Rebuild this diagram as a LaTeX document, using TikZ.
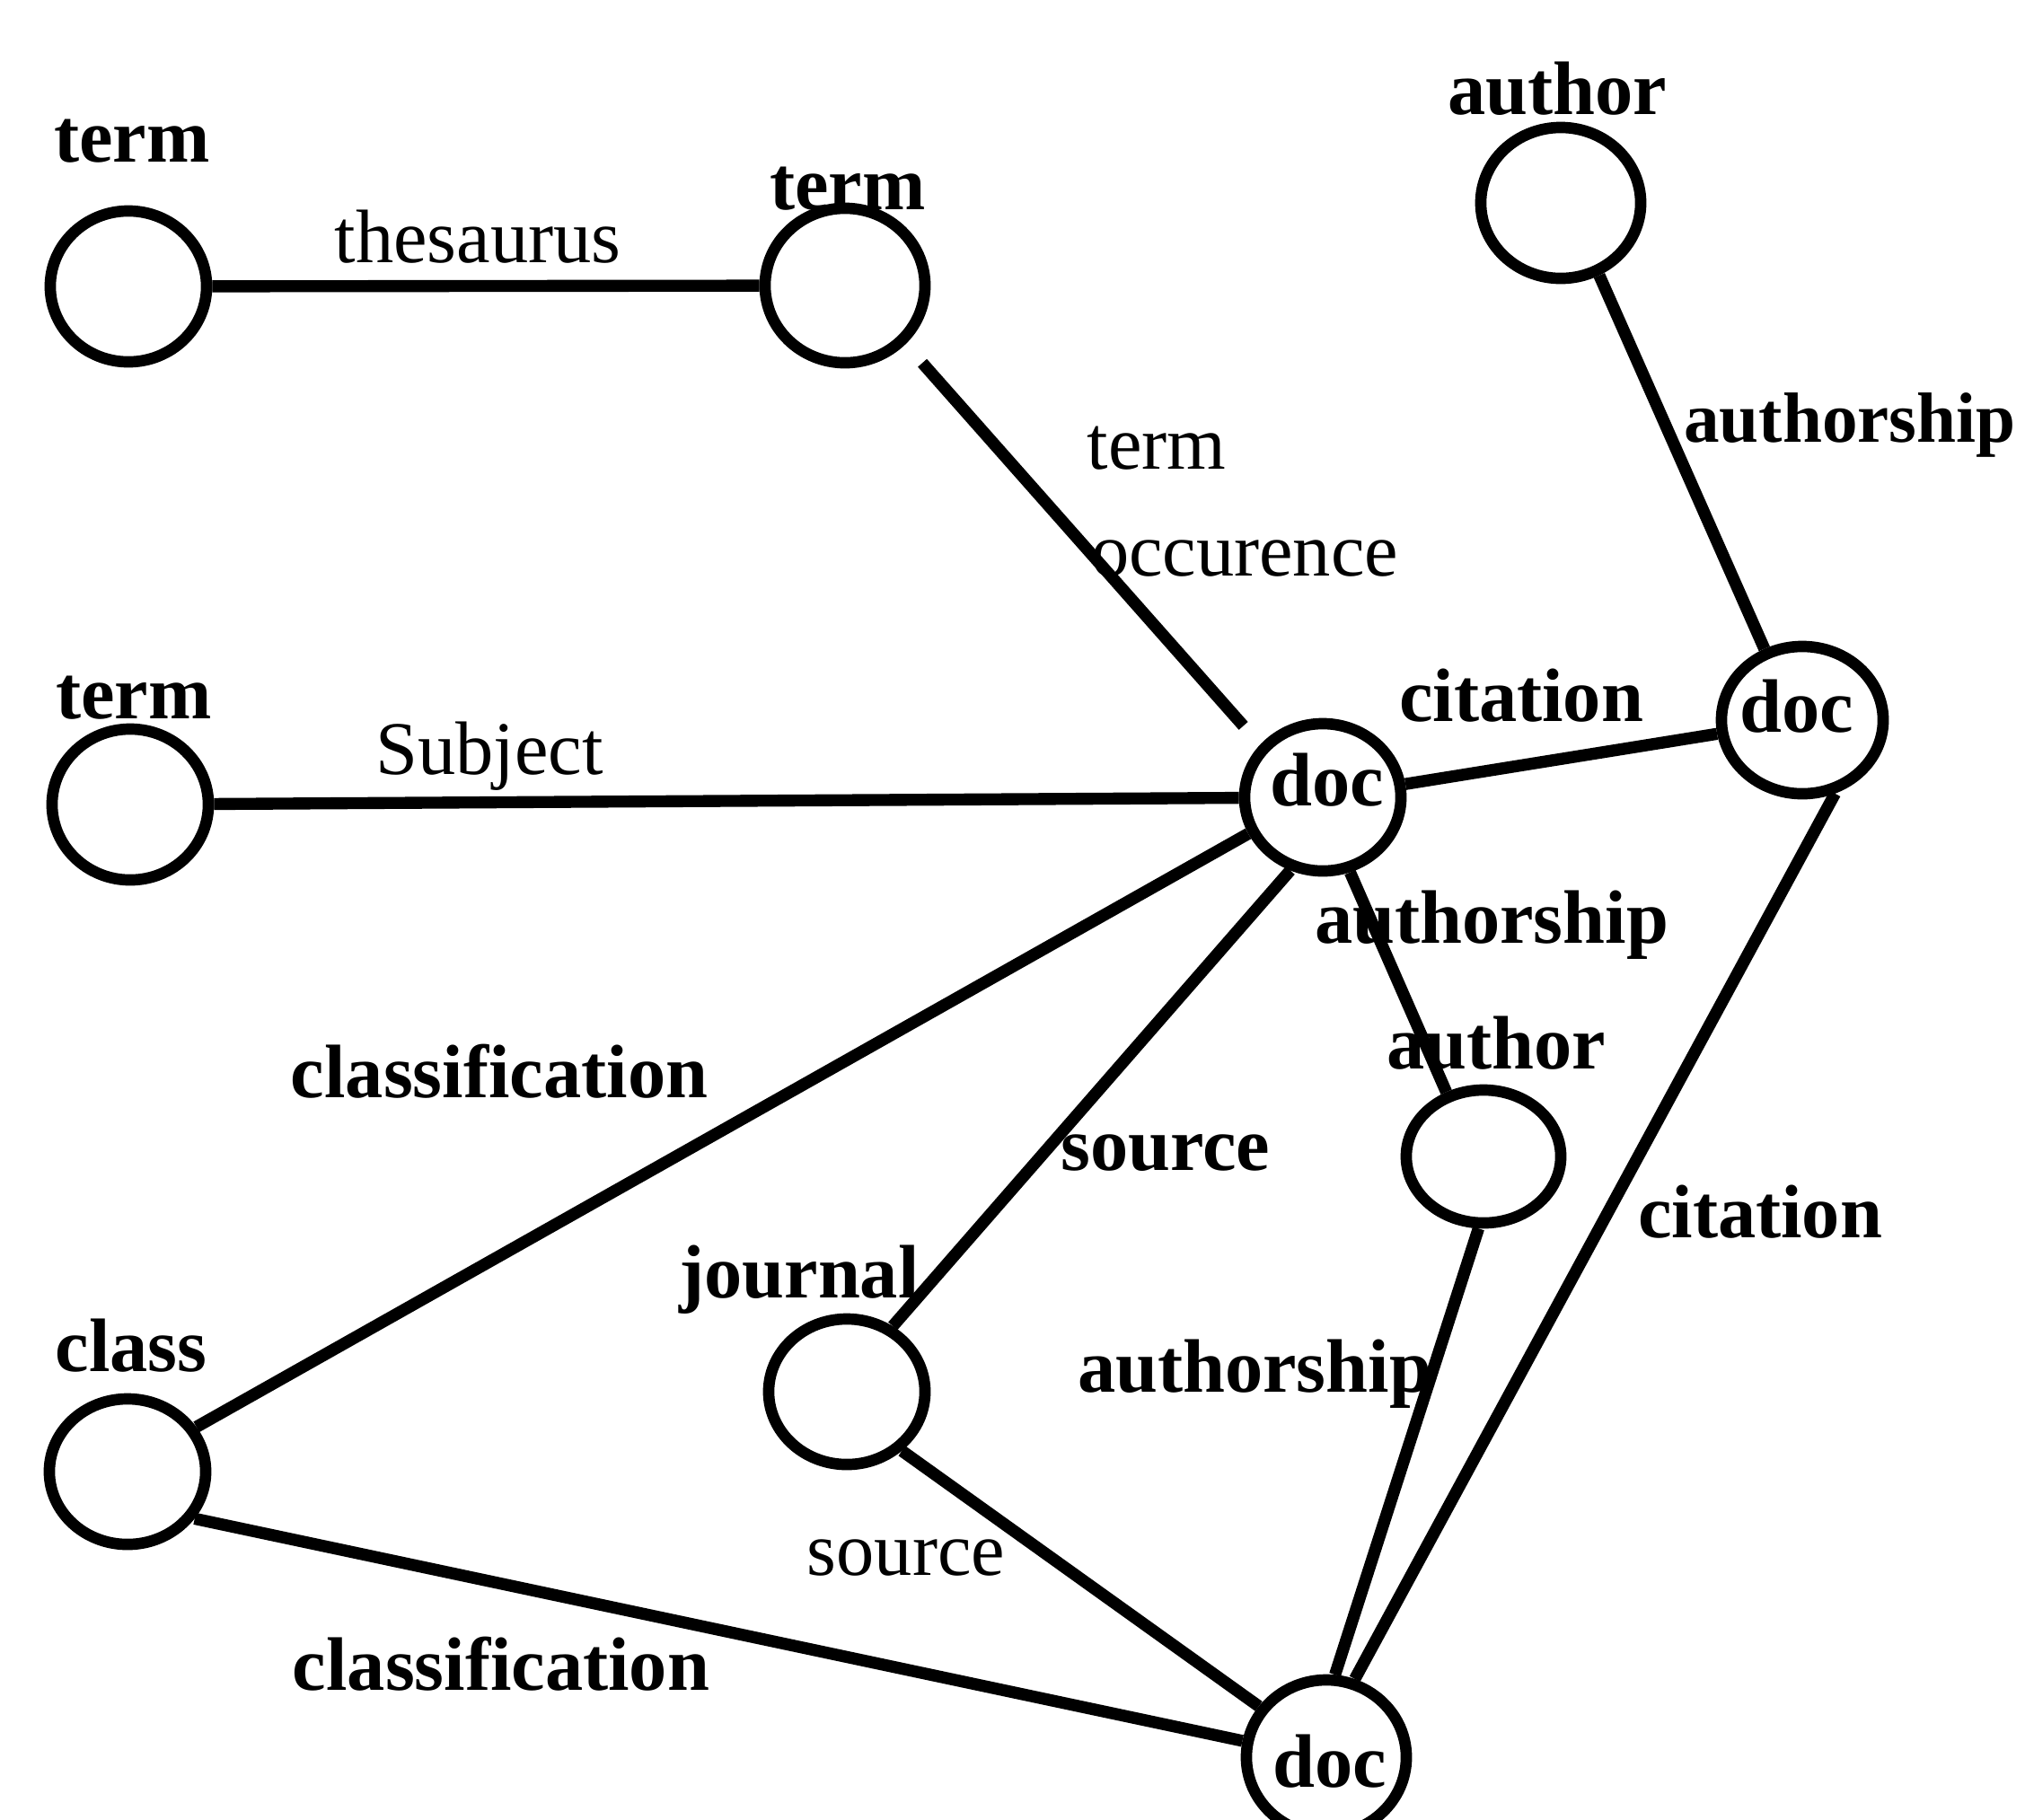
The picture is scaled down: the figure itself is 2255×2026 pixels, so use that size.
\documentclass[tikz,border=0pt]{standalone}
\usepackage{fontspec}
\setmainfont{Liberation Serif}
\usetikzlibrary{shapes.geometric}

\newcommand\lblsize{\fontsize{24}{28}\selectfont}

\tikzset{
  ent/.style={ellipse, draw, line width=3.6pt, inner sep=0pt,
    minimum width=1.74cm, minimum height=1.68cm},
  rel/.style={line width=3.8pt},
  nm/.style={anchor=base, inner sep=0pt, font=\lblsize\bfseries},
  rl/.style={anchor=base, inner sep=0pt, font=\lblsize},
}

\begin{document}
\begin{tikzpicture}[x=0.01cm, y=-0.01cm]
  \useasboundingbox (0,0) rectangle (2255,2026);

  % entities
  \node[ent] (termA) at (143,319) {};
  \node[ent, minimum width=1.78cm, minimum height=1.72cm] (termB) at (941,318) {};
  \node[ent] (termC) at (145,896) {};
  \node[ent, minimum width=1.78cm] (authA) at (1738,226) {};
  \node[ent, minimum height=1.64cm] (docA) at (1473,888) {};
  \node[ent, minimum width=1.80cm, minimum height=1.64cm] (docB) at (2007,802) {};
  \node[ent, minimum width=1.72cm, minimum height=1.48cm] (authB) at (1652,1288) {};
  \node[ent, minimum height=1.62cm] (journal) at (943,1550) {};
  \node[ent, minimum height=1.62cm] (class) at (142,1639) {};
  \node[ent, minimum width=1.78cm, minimum height=1.72cm] (docC) at (1477,1957) {};

  % entity names
  \node[nm] (termA-n) at (147,180) {term};
  \node[nm] (termB-n) at (944,233) {term};
  \node[nm] (termC-n) at (149,800) {term};
  \node[nm] (authA-n) at (1734,127) {author};
  \node[nm] (authB-n) at (1666,1190) {author};
  \node[nm] (journal-n) at (890,1445) {journal};
  \node[nm] (class-n) at (146,1527) {class};
  \node[nm] (docA-n) at (1478,897) {doc};
  \node[nm] (docB-n) at (2001,815) {doc};
  \node[nm] (docC-n) at (1481,1990) {doc};

  % relations
  \draw[rel] (termA) -- (termB);
  \draw[rel, shorten <=0.28cm, shorten >=0.28cm] (termB.-44) -- (docA.140);
  \draw[rel] (termC) -- (docA);
  \draw[rel] (docA) -- (docB);
  \draw[rel] (authA.-62) -- (docB.118);
  \draw[rel] (docA.-70) -- (authB.120);
  \draw[rel] (class.33) -- (docA.206);
  \draw[rel] (docA.-114) -- (journal.55);
  \draw[rel] (authB.-94) -- (docC.84);
  \draw[rel] (docB.-66) -- (docC.70);
  \draw[rel] (journal.-47) -- (docC.143);
  \draw[rel] (class.-35) -- (docC.169);

  % relation names
  \node[rl] (thes) at (532,292) {thesaurus};
  \node[rl] (subj) at (545,862) {Subject};
  \node[rl] (occ1) at (1288,522) {term};
  \node[rl] (occ2) at (1386,641) {occurence};
  \node[nm] (citA) at (1694,803) {citation};
  \node[nm, font=\fontsize{22.5}{27}\selectfont\bfseries] (autsA) at (2060,492) {authorship};
  \node[nm] (autsB) at (1661,1050) {authorship};
  \node[nm] (clsA) at (556,1222) {classification};
  \node[nm] (srcA) at (1298,1303) {source};
  \node[nm] (autsC) at (1397,1550) {authorship};
  \node[nm] (citB) at (1960,1378) {citation};
  \node[rl] (srcB) at (1009,1754) {source};
  \node[nm] (clsB) at (558,1882) {classification};
\end{tikzpicture}
\end{document}
